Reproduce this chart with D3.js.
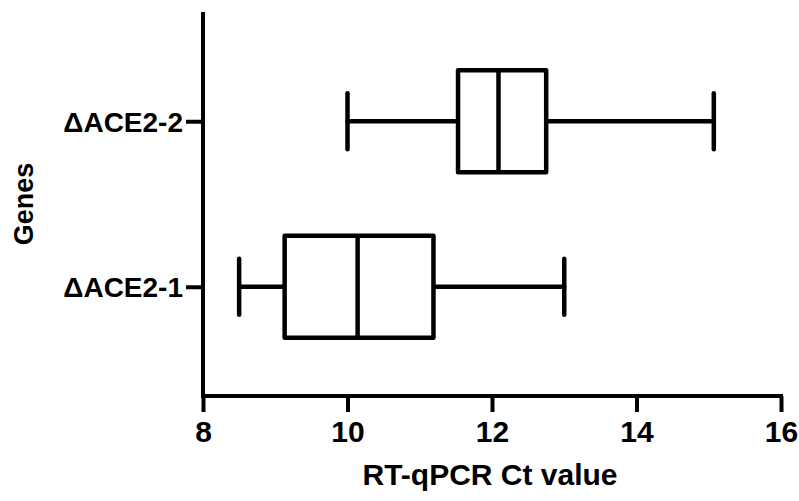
<!DOCTYPE html>
<html>
<head>
<meta charset="utf-8">
<script src="https://cdn.jsdelivr.net/npm/d3@7"></script>
<style>
  html, body { margin: 0; padding: 0; background: #fff; }
  svg text { font-family: "Liberation Sans", Arial, Helvetica, sans-serif; font-weight: bold; fill: #000; }
</style>
</head>
<body>
<svg id="chart" width="799" height="501"></svg>
<script>
// Box-and-whisker summaries of RT-qPCR Ct values per gene
const genes   = ["ΔACE2-1", "ΔACE2-2"];
const mins    = [8.5, 10.0];
const q1s     = [9.13, 11.53];
const medians = [10.14, 12.09];
const q3s     = [11.19, 12.75];
const maxs    = [13.0, 15.07];
const xTicks  = [8, 10, 12, 14, 16];
const xTitle  = "RT-qPCR Ct value";
const yTitle  = "Genes";

const rows = genes.map((g, i) => ({
  gene: g, min: mins[i], q1: q1s[i], median: medians[i], q3: q3s[i], max: maxs[i]
}));

const svg = d3.select("#chart");
const plotLeft = 203, plotRight = 781, plotTop = 12, plotBottom = 396;

const x = d3.scaleLinear().domain([8, 16]).range([plotLeft, plotRight]);
const y = d3.scalePoint().domain(genes).range([plotBottom, plotTop]).padding(0.66);

const boxHalf = 51, capHalf = 28, sw = 4.5;

// Axes
const xAxis = svg.append("g")
  .attr("transform", `translate(0,${plotBottom})`)
  .call(d3.axisBottom(x).tickValues(xTicks).tickSize(16).tickFormat(d3.format("d")));
const yAxis = svg.append("g")
  .attr("transform", `translate(${plotLeft},0)`)
  .call(d3.axisLeft(y).tickSize(17).tickPadding(3));

[xAxis, yAxis].forEach(ax => {
  ax.select(".domain").remove();
  ax.selectAll(".tick line").attr("stroke", "#000").attr("stroke-width", 4);
});
xAxis.selectAll(".tick text").attr("font-size", 30).attr("y", 46).attr("dy", 0);
yAxis.selectAll(".tick text").attr("font-size", 28).attr("dy", "0.36em");

// Axis lines
svg.append("line")
  .attr("x1", plotLeft).attr("x2", plotLeft).attr("y1", plotTop).attr("y2", plotBottom + 2)
  .attr("stroke", "#000").attr("stroke-width", 4);
svg.append("line")
  .attr("x1", plotLeft - 2).attr("x2", plotRight + 2).attr("y1", plotBottom).attr("y2", plotBottom)
  .attr("stroke", "#000").attr("stroke-width", 4);

// Boxes
const g = svg.append("g").attr("stroke", "#000").attr("stroke-width", sw)
  .attr("stroke-linejoin", "round").attr("stroke-linecap", "round").attr("fill", "none");

rows.forEach(r => {
  const cy = y(r.gene);
  // whiskers
  g.append("line").attr("x1", x(r.min)).attr("x2", x(r.q1)).attr("y1", cy).attr("y2", cy);
  g.append("line").attr("x1", x(r.q3)).attr("x2", x(r.max)).attr("y1", cy).attr("y2", cy);
  // caps
  g.append("line").attr("x1", x(r.min)).attr("x2", x(r.min)).attr("y1", cy - capHalf).attr("y2", cy + capHalf);
  g.append("line").attr("x1", x(r.max)).attr("x2", x(r.max)).attr("y1", cy - capHalf).attr("y2", cy + capHalf);
  // box
  g.append("rect").attr("x", x(r.q1)).attr("y", cy - boxHalf)
    .attr("width", x(r.q3) - x(r.q1)).attr("height", 2 * boxHalf).attr("fill", "#fff");
  // median
  g.append("line").attr("x1", x(r.median)).attr("x2", x(r.median))
    .attr("y1", cy - boxHalf).attr("y2", cy + boxHalf).attr("stroke-linecap", "butt");
});

// Titles
svg.append("text")
  .attr("x", (plotLeft + plotRight) / 2 - 2).attr("y", 484.5)
  .attr("text-anchor", "middle").attr("font-size", 30)
  .text(xTitle);
svg.append("text")
  .attr("transform", `translate(33,204) rotate(-90)`)
  .attr("text-anchor", "middle").attr("font-size", 27)
  .text(yTitle);
</script>
</body>
</html>
